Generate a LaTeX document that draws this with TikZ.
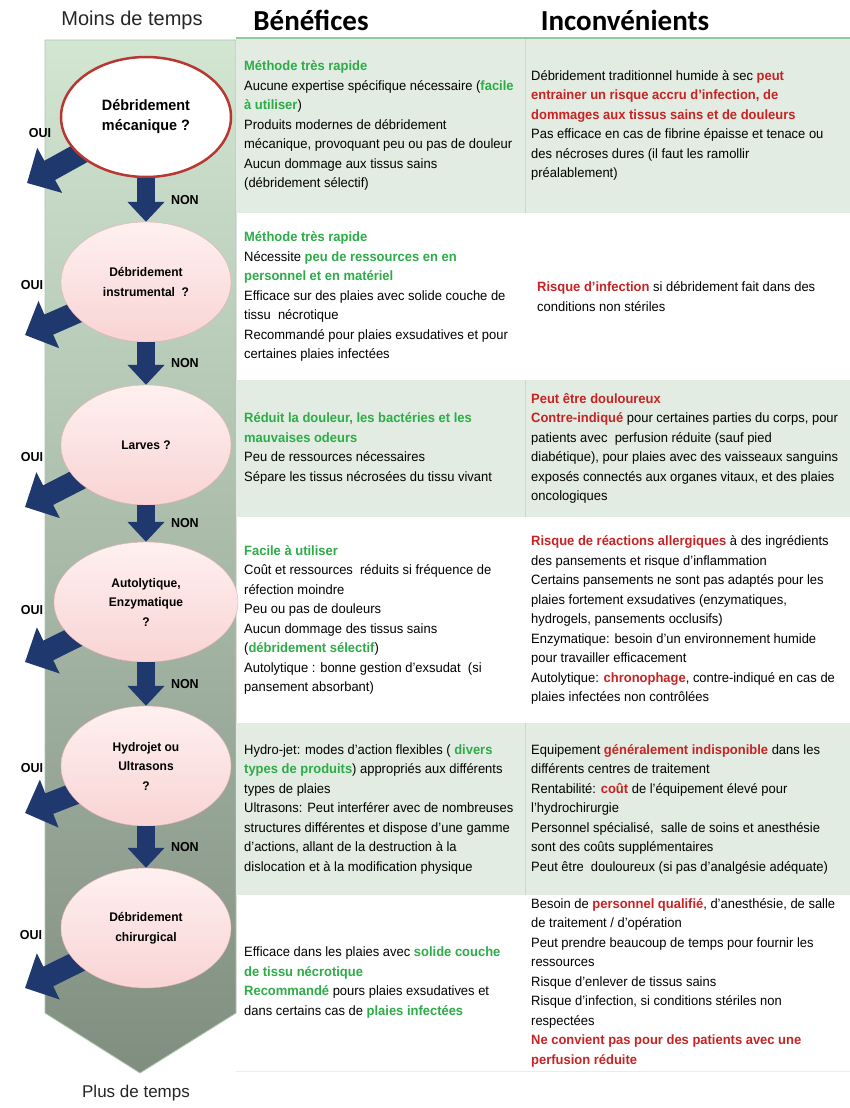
\documentclass[tikz,border=0pt]{standalone}
\usepackage{fontspec}
\setmainfont{Liberation Sans}[FakeStretch=0.96]
\newfontfamily\titlefont{Carlito}
\newfontfamily\sidefont{Liberation Sans}
\usetikzlibrary{arrows.meta,shapes.geometric,backgrounds}

\definecolor{arrowblue}{RGB}{31,56,110}
\definecolor{okgreen}{RGB}{45,172,72}
\definecolor{badred}{RGB}{200,35,35}
\definecolor{rowgreen}{RGB}{226,236,226}
\definecolor{bandtop}{RGB}{210,230,210}
\definecolor{bandmid}{RGB}{176,194,176}
\definecolor{bandbot}{RGB}{128,142,128}
\definecolor{pinktop}{RGB}{254,240,240}
\definecolor{pinkbot}{RGB}{249,212,212}
\definecolor{pinkline}{RGB}{232,175,175}
\definecolor{firstline}{RGB}{185,55,50}
\definecolor{frameline}{RGB}{150,200,155}
\definecolor{divline}{RGB}{205,216,205}

\newcommand{\gtext}[1]{\textcolor{okgreen}{\bfseries #1}}
\newcommand{\rtext}[1]{\textcolor{badred}{\bfseries #1}}

\begin{document}
\begin{tikzpicture}[x=1pt,y=-1pt,
  qshape/.style={ellipse,minimum width=170pt,minimum height=120pt,inner sep=0pt,align=center},
  question/.style={qshape,draw=pinkline,top color=pinktop,bottom color=pinkbot,font=\bfseries\fontsize{12.5}{19.5}\selectfont},
  firstq/.style={qshape,draw=firstline,fill=white,line width=2.5pt,font=\bfseries\fontsize{15}{20}\selectfont},
  cell/.style={anchor=west,align=left,inner sep=0pt,font=\fontsize{13.5}{19.5}\selectfont},
  non/.style={arrowblue,line width=18pt,-{Triangle[length=20pt,width=36pt]}},
  oui/.style={arrowblue,line width=22pt,-{Triangle[length=26pt,width=50pt]}},
  answer/.style={text=black,inner sep=0pt,font=\bfseries\fontsize{13}{15}\selectfont}]
\useasboundingbox (0,0) rectangle (850,1108);

% page, band and table rows
\begin{pgfonlayer}{background}
\fill[white] (0,0) rectangle (850,1108);
\shadedraw[top color=bandtop,middle color=bandmid,bottom color=bandbot,draw=bandtop!60!bandbot,line width=0.8pt]
  (45,40) -- (236,40) -- (236,1013) -- (140,1073) -- (45,1013) -- cycle;
\fill[rowgreen] (236,38) rectangle (850,213);
\fill[rowgreen] (236,380) rectangle (850,517);
\fill[rowgreen] (236,723) rectangle (850,895);
\draw[divline] (525,38) -- (525,213);
\draw[divline] (525,380) -- (525,517);
\draw[divline] (525,723) -- (525,895);
\draw[frameline,line width=1.5pt] (236,38) -- (850,38);
\draw[frameline!25] (236,1071) -- (850,1071);
\end{pgfonlayer}

% headings
\node[text=black!85,font=\sidefont\fontsize{20}{24}\selectfont] (moins) at (132,20) {Moins de temps};
\node[font=\titlefont\bfseries\fontsize{29}{34}\selectfont] (benef) at (311,20) {Bénéfices};
\node[font=\titlefont\bfseries\fontsize{29}{34}\selectfont] (incon) at (625,20) {Inconvénients};
\node[text=black!85,font=\sidefont\fontsize{17}{20}\selectfont] (plus) at (136,1093) {Plus de temps};

% questions
\node[firstq] (q1) at (146,117) {Débridement\\mécanique ?};
\node[question] (q2) at (146,282) {Débridement\\instrumental~ ?};
\node[question] (q3) at (146,445) {Larves ?};
\node[question,minimum width=184pt] (q4) at (146,602) {Autolytique,\\Enzymatique\\?};
\node[question] (q5) at (146,766) {Hydrojet ou\\Ultrasons\\?};
\node[question] (q6) at (146,928) {Débridement\\chirurgical};

\draw[non] (q1.south) -- (q2.north) node[answer,midway,right=16pt] {NON};
\draw[non] (q2.south) -- (q3.north) node[answer,midway,right=16pt] {NON};
\draw[non] (q3.south) -- (q4.north) node[answer,midway,right=16pt] {NON};
\draw[non] (q4.south) -- (q5.north) node[answer,midway,right=16pt] {NON};
\draw[non] (q5.south) -- (q6.north) node[answer,midway,right=16pt] {NON};

\coordinate (y1) at (27,183);
\coordinate (y2) at (25,335);
\coordinate (y3) at (25,507);
\coordinate (y4) at (25,662);
\coordinate (y5) at (25,813);
\coordinate (y6) at (25,988);
\begin{pgfonlayer}{background}
\draw[oui] (q1.center) -- (y1);
\draw[oui] (q2.center) -- (y2);
\draw[oui] (q3.center) -- (y3);
\draw[oui] (q4.center) -- (y4);
\draw[oui] (q5.center) -- (y5);
\draw[oui] (q6.center) -- (y6);
\end{pgfonlayer}
\node[answer] (oui1) at (40,133) {OUI};
\node[answer] (oui2) at (32,285) {OUI};
\node[answer] (oui3) at (32,457) {OUI};
\node[answer] (oui4) at (32,610) {OUI};
\node[answer] (oui5) at (32,768) {OUI};
\node[answer] (oui6) at (31,935) {OUI};

% benefits
\node[cell] (b1) at (244,125.5) {\gtext{Méthode très rapide}\\
Aucune expertise spécifique nécessaire (\gtext{facile}\\
\gtext{à utiliser})\\
Produits modernes de débridement\\
mécanique, provoquant peu ou pas de douleur\\
Aucun dommage aux tissus sains\\
(débridement sélectif)};
\node[cell] (b2) at (244,296.5) {\gtext{Méthode très rapide}\\
Nécessite \gtext{peu de ressources en en}\\
\gtext{personnel et en matériel}\\
Efficace sur des plaies avec solide couche de\\
tissu\ \ nécrotique\\
Recommandé pour plaies exsudatives et pour\\
certaines plaies infectées};
\node[cell] (b3) at (244,448.5) {\gtext{Réduit la douleur, les bactéries et les}\\
\gtext{mauvaises odeurs}\\
Peu de ressources nécessaires\\
Sépare les tissus nécrosées du tissu vivant};
\node[cell] (b4) at (244,620) {\gtext{Facile à utiliser}\\
Coût et ressources\ \ réduits si fréquence de\\
réfection moindre\\
Peu ou pas de douleurs\\
Aucun dommage des tissus sains\\
(\gtext{débridement sélectif})\\
Autolytique : bonne gestion d'exsudat\ \ (si\\
pansement absorbant)};
\node[cell] (b5) at (244,809) {Hydro-jet: modes d'action flexibles ( \gtext{divers}\\
\gtext{types de produits}) appropriés aux différents\\
types de plaies\\
Ultrasons: Peut interférer avec de nombreuses\\
structures différentes et dispose d'une gamme\\
d'actions, allant de la destruction à la\\
dislocation et à la modification physique};
\node[cell] (b6) at (244,982.5) {Efficace dans les plaies avec \gtext{solide couche}\\
\gtext{de tissu nécrotique}\\
\gtext{Recommandé} pours plaies exsudatives et\\
dans certains cas de \gtext{plaies infectées}};

% drawbacks
\node[cell] (i1) at (531,125.5) {Débridement traditionnel humide à sec \rtext{peut}\\
\rtext{entrainer un risque accru d'infection, de}\\
\rtext{dommages aux tissus sains et de douleurs}\\
Pas efficace en cas de fibrine épaisse et tenace ou\\
des nécroses dures (il faut les ramollir\\
préalablement)};
\node[cell] (i2) at (537,296.5) {\rtext{Risque d'infection} si débridement fait dans des\\
conditions non stériles};
\node[cell] (i3) at (531,448.5) {\rtext{Peut être douloureux}\\
\rtext{Contre-indiqué} pour certaines parties du corps, pour\\
patients avec\ \ perfusion réduite (sauf pied\\
diabétique), pour plaies avec des vaisseaux sanguins\\
exposés connectés aux organes vitaux, et des plaies\\
oncologiques};
\node[cell] (i4) at (531,620) {\rtext{Risque de réactions allergiques} à des ingrédients\\
des pansements et risque d'inflammation\\
Certains pansements ne sont pas adaptés pour les\\
plaies fortement exsudatives (enzymatiques,\\
hydrogels, pansements occlusifs)\\
Enzymatique: besoin d'un environnement humide\\
pour travailler efficacement\\
Autolytique: \rtext{chronophage}, contre-indiqué en cas de\\
plaies infectées non contrôlées};
\node[cell] (i5) at (531,809) {Equipement \rtext{généralement indisponible} dans les\\
différents centres de traitement\\
Rentabilité: \rtext{coût} de l'équipement élevé pour\\
l'hydrochirurgie\\
Personnel spécialisé,\ \ salle de soins et anesthésie\\
sont des coûts supplémentaires\\
Peut être\ \ douloureux (si pas d'analgésie adéquate)};
\node[cell] (i6) at (531,982.5) {Besoin de \rtext{personnel qualifié}, d'anesthésie, de salle\\
de traitement / d'opération\\
Peut prendre beaucoup de temps pour fournir les\\
ressources\\
Risque d'enlever de tissus sains\\
Risque d'infection, si conditions stériles non\\
respectées\\
\rtext{Ne convient pas pour des patients avec une}\\
\rtext{perfusion réduite}};
\end{tikzpicture}
\end{document}
